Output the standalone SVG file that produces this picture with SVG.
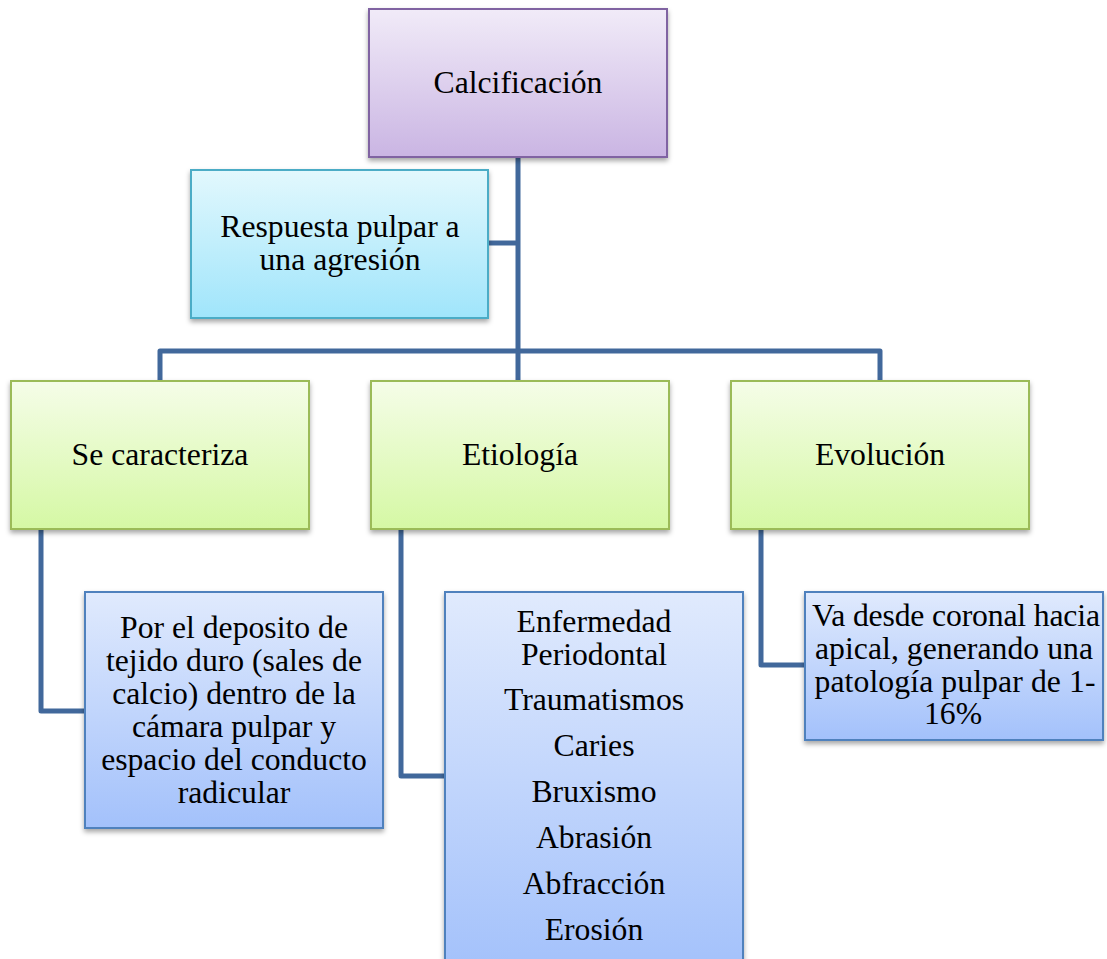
<svg xmlns="http://www.w3.org/2000/svg" width="1107" height="959" viewBox="0 0 1107 959">
<defs>
<linearGradient id="gPurple" x1="0" y1="0" x2="0" y2="1"><stop offset="0" stop-color="#f1ebf8"/><stop offset="1" stop-color="#cab5e3"/></linearGradient>
<linearGradient id="gCyan" x1="0" y1="0" x2="0" y2="1"><stop offset="0" stop-color="#e2f8fd"/><stop offset="1" stop-color="#a0e5fb"/></linearGradient>
<linearGradient id="gGreen" x1="0" y1="0" x2="0" y2="1"><stop offset="0" stop-color="#f5fde8"/><stop offset="1" stop-color="#d5f8a4"/></linearGradient>
<linearGradient id="gBlue" x1="0" y1="0" x2="0" y2="1"><stop offset="0" stop-color="#e0eafd"/><stop offset="1" stop-color="#a3c1fb"/></linearGradient>
<filter id="sh" x="-10%" y="-10%" width="120%" height="125%"><feDropShadow dx="0" dy="3" stdDeviation="2.5" flood-color="#000" flood-opacity="0.35"/></filter>
</defs>
<style>
.t{font-family:"Liberation Serif","Times New Roman",serif;font-size:31.7px;fill:#000;text-anchor:middle}
.box{stroke-width:2;filter:url(#sh)}
.p{fill:url(#gPurple);stroke:#8064a2}
.c{fill:url(#gCyan);stroke:#4bacc6}
.g{fill:url(#gGreen);stroke:#9bbb59}
.b{fill:url(#gBlue);stroke:#4f81bd}
.ln{fill:none;stroke:#41689b;stroke-width:5;stroke-linejoin:round}
</style>
<g id="connectors">
<path class="ln" d="M518,157 V380"/>
<path class="ln" d="M488,243 H518"/>
<path class="ln" d="M160,381 V351 H880 V381"/>
<path class="ln" d="M41,529 V711 H86"/>
<path class="ln" d="M401,529 V776 H446"/>
<path class="ln" d="M761,529 V665 H806"/>
</g>
<g id="calcificacion">
<rect class="box p" x="369" y="9" width="298" height="148"/>
<text class="t" x="518" y="93">Calcificación</text>
</g>
<g id="respuesta">
<rect class="box c" x="191" y="170" width="297" height="148"/>
<text class="t" x="340" y="237">Respuesta pulpar a</text>
<text class="t" x="340" y="270">una agresión</text>
</g>
<g id="se-caracteriza">
<rect class="box g" x="11" y="381" width="298" height="148"/>
<text class="t" x="160" y="465">Se caracteriza</text>
</g>
<g id="etiologia">
<rect class="box g" x="371" y="381" width="298" height="148"/>
<text class="t" x="520" y="465">Etiología</text>
</g>
<g id="evolucion">
<rect class="box g" x="731" y="381" width="298" height="148"/>
<text class="t" x="880" y="465">Evolución</text>
</g>
<g id="deposito">
<rect class="box b" x="85" y="592" width="298" height="236"/>
<text class="t" x="234" y="638">Por el deposito de</text>
<text class="t" x="234" y="671">tejido duro (sales de</text>
<text class="t" x="234" y="704">calcio) dentro de la</text>
<text class="t" x="234" y="737">cámara pulpar y</text>
<text class="t" x="234" y="770">espacio del conducto</text>
<text class="t" x="234" y="803">radicular</text>
</g>
<g id="lista-etiologia">
<rect class="box b" x="445" y="592" width="298" height="380"/>
<text class="t" x="594" y="632">Enfermedad</text>
<text class="t" x="594" y="665">Periodontal</text>
<text class="t" x="594" y="710">Traumatismos</text>
<text class="t" x="594" y="756">Caries</text>
<text class="t" x="594" y="802">Bruxismo</text>
<text class="t" x="594" y="848">Abrasión</text>
<text class="t" x="594" y="894">Abfracción</text>
<text class="t" x="594" y="940">Erosión</text>
</g>
<g id="va-desde">
<rect class="box b" x="805" y="592" width="298" height="148"/>
<text class="t" x="956" y="626" textLength="288" lengthAdjust="spacing">Va desde coronal hacia</text>
<text class="t" x="954" y="659" textLength="278" lengthAdjust="spacing">apical, generando una</text>
<text class="t" x="955" y="692" textLength="281" lengthAdjust="spacing">patología pulpar de 1-</text>
<text class="t" x="953" y="724">16%</text>
</g>
</svg>
